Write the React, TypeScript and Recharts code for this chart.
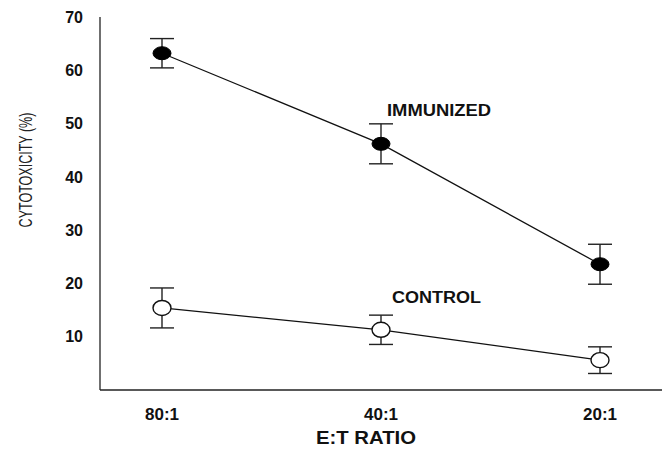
import React from 'react';
import { LineChart, Line, XAxis, YAxis, ErrorBar, LabelList } from 'recharts';

const ratios = ['80:1', '40:1', '20:1'];
const immunized = [63.2, 46.2, 23.6];
const immunizedErr = [2.75, 3.75, 3.75];
const control = [15.4, 11.3, 5.6];
const controlErr = [3.75, 2.75, 2.5];
const yTicks = [10, 20, 30, 40, 50, 60, 70];

const data = ratios.map((r, i) => ({
  ratio: r,
  immunized: immunized[i],
  immunizedErr: immunizedErr[i],
  control: control[i],
  controlErr: controlErr[i],
}));

const FONT = '"Liberation Sans", Arial, Helvetica, sans-serif';

const FilledDot = (p: any) => (
  <ellipse key={`f-${p.index}`} cx={p.cx} cy={p.cy} rx={9} ry={6.5} fill="#000" stroke="#000" strokeWidth={1} />
);
const OpenDot = (p: any) => (
  <ellipse key={`o-${p.index}`} cx={p.cx} cy={p.cy} rx={9} ry={7.5} fill="#fff" stroke="#111" strokeWidth={1.4} />
);

const seriesLabel = (text: string, idx: number, dx: number, dy: number, len: number) => (props: any) => {
  if (props.index !== idx) return null;
  return (
    <text
      x={props.x + dx}
      y={props.y + dy}
      textAnchor="start"
      dominantBaseline="central"
      fontFamily={FONT}
      fontWeight="bold"
      fontSize={16}
      fill="#111"
      textLength={len}
      lengthAdjust="spacingAndGlyphs"
    >
      {text}
    </text>
  );
};

export default function App() {
  return (
    <div style={{ position: 'absolute', left: 0, top: 0, background: '#fff' }}>
      <LineChart
        width={666}
        height={449}
        data={data}
        margin={{ top: 17, right: 4, bottom: 0, left: 0 }}
      >
        <XAxis
          dataKey="ratio"
          padding={{ left: 62, right: 62 }}
          height={59}
          tickLine={false}
          tickSize={6}
          tickMargin={12}
          axisLine={{ stroke: '#222', strokeWidth: 1.3 }}
          tick={{ fontFamily: FONT, fontWeight: 'bold', fontSize: 17, fill: '#111' }}
          label={{
            content: (props: any) => {
              const vb = props.viewBox;
              return (
                <text
                  x={vb.x + vb.width / 2 - 15}
                  y={438}
                  textAnchor="middle"
                  dominantBaseline="central"
                  fontFamily={FONT}
                  fontWeight="bold"
                  fontSize={18}
                  fill="#111"
                  textLength={100}
                  lengthAdjust="spacingAndGlyphs"
                >
                  E:T RATIO
                </text>
              );
            },
          }}
        />
        <YAxis
          width={100}
          domain={[0, 70]}
          ticks={yTicks}
          interval={0}
          tickLine={false}
          tickSize={6}
          tickMargin={11}
          axisLine={{ stroke: '#222', strokeWidth: 1.3 }}
          tick={{ fontFamily: FONT, fontWeight: 'bold', fontSize: 16, fill: '#111' }}
          label={{
            content: () => (
              <g transform="translate(25, 170) rotate(-90) scale(0.66, 1)">
                <text
                  x={0}
                  y={0}
                  textAnchor="middle"
                  dominantBaseline="central"
                  fontFamily={FONT}
                  fontSize={19}
                  fill="#222"
                >
                  CYTOTOXICITY (%)
                </text>
              </g>
            ),
          }}
        />
        <Line
          dataKey="immunized"
          stroke="#111"
          strokeWidth={1.3}
          isAnimationActive={false}
          dot={FilledDot}
          activeDot={false}
        >
          <ErrorBar dataKey="immunizedErr" width={12} stroke="#222" strokeWidth={1.4} direction="y" />
          <LabelList content={seriesLabel('IMMUNIZED', 1, 6, -33, 104)} />
        </Line>
        <Line
          dataKey="control"
          stroke="#111"
          strokeWidth={1.3}
          isAnimationActive={false}
          dot={OpenDot}
          activeDot={false}
        >
          <ErrorBar dataKey="controlErr" width={12} stroke="#222" strokeWidth={1.4} direction="y" />
          <LabelList content={seriesLabel('CONTROL', 1, 11, -32, 89)} />
        </Line>
      </LineChart>
    </div>
  );
}
